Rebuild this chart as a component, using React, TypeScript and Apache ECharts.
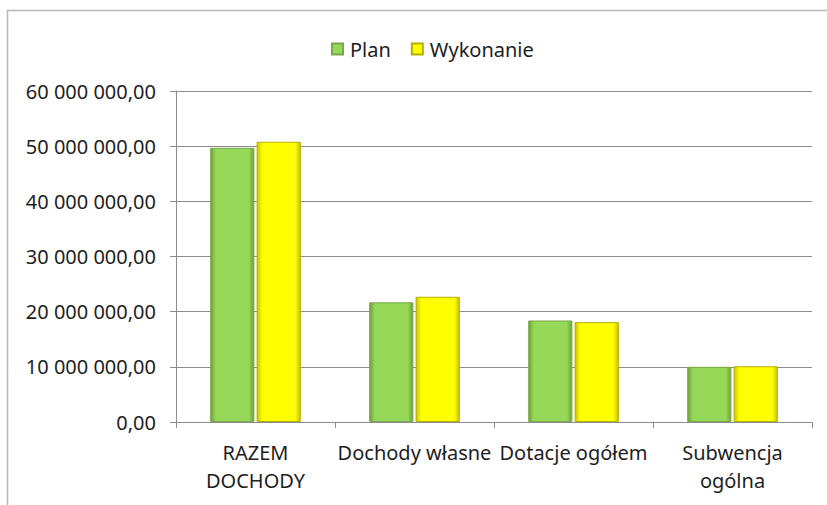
import React, { useEffect, useRef } from "react";
import * as echarts from "echarts";

const categories = ["RAZEM\nDOCHODY", "Dochody własne", "Dotacje ogółem", "Subwencja\nogólna"];
const planValues = [49700000, 21700000, 18400000, 10000000];
const wykonanieValues = [50800000, 22700000, 18100000, 10100000];
const seriesNames = ["Plan", "Wykonanie"];

const FONT = "Noto Sans";

function fmt(v: number): string {
  const s = Math.round(v).toString().replace(/\B(?=(\d{3})+(?!\d))/g, " ");
  return s + ",00";
}

function hGrad(edge: string, mid: string) {
  return new echarts.graphic.LinearGradient(0, 0, 1, 0, [
    { offset: 0, color: edge },
    { offset: 0.12, color: mid },
    { offset: 0.88, color: mid },
    { offset: 1, color: edge },
  ]);
}

export default function App() {
  const ref = useRef<HTMLDivElement>(null);
  useEffect(() => {
    if (!ref.current) return;
    const chart = echarts.init(ref.current, undefined, { renderer: "svg" });
    chart.setOption({
      animation: false,
      backgroundColor: "#ffffff",
      textStyle: { fontFamily: FONT },
      graphic: [
        {
          type: "rect",
          shape: { x: 7.5, y: 10.5, width: 900, height: 600 },
          style: { fill: "none", stroke: "#b8b8b8", lineWidth: 1.5 },
          silent: true,
        },
      ],
      legend: {
        top: 34,
        left: 326,
        icon: "rect",
        itemWidth: 11,
        itemHeight: 11,
        itemGap: 20,
        textStyle: { fontFamily: FONT, fontSize: 20, color: "#1e1e1e", padding: [0, 0, 0, 2] },
        data: seriesNames,
      },
      grid: { left: 176, right: 15, top: 91, bottom: 83 },
      xAxis: {
        type: "category",
        data: categories,
        axisLine: { lineStyle: { color: "#8c8c8c", width: 1 } },
        axisTick: { show: true, length: 6, lineStyle: { color: "#8c8c8c" } },
        axisLabel: {
          fontFamily: FONT,
          fontSize: 20,
          color: "#1e1e1e",
          lineHeight: 28,
          margin: 16,
          interval: 0,
        },
      },
      yAxis: {
        type: "value",
        min: 0,
        max: 60000000,
        interval: 10000000,
        axisLine: { show: true, lineStyle: { color: "#8c8c8c", width: 1 } },
        axisTick: { show: true, length: 6, lineStyle: { color: "#8c8c8c" } },
        splitLine: { show: true, lineStyle: { color: "#8c8c8c", width: 1 } },
        axisLabel: {
          fontFamily: FONT,
          fontSize: 20,
          color: "#1e1e1e",
          margin: 20,
          formatter: (v: number) => fmt(v),
        },
      },
      series: [
        {
          name: seriesNames[0],
          type: "bar",
          data: planValues,
          barGap: "5%",
          barCategoryGap: "43%",
          itemStyle: {
            color: hGrad("#6f9f3c", "#96d857"),
            borderColor: "#7aa84a",
            borderWidth: 1,
          },
        },
        {
          name: seriesNames[1],
          type: "bar",
          data: wykonanieValues,
          barGap: "5%",
          barCategoryGap: "43%",
          itemStyle: {
            color: hGrad("#c8c200", "#ffff00"),
            borderColor: "#b5b000",
            borderWidth: 1,
          },
        },
      ],
    });
    return () => chart.dispose();
  }, []);
  return (
    <div
      ref={ref}
      style={{ position: "fixed", left: 0, top: 0, width: 827, height: 505 }}
    />
  );
}
